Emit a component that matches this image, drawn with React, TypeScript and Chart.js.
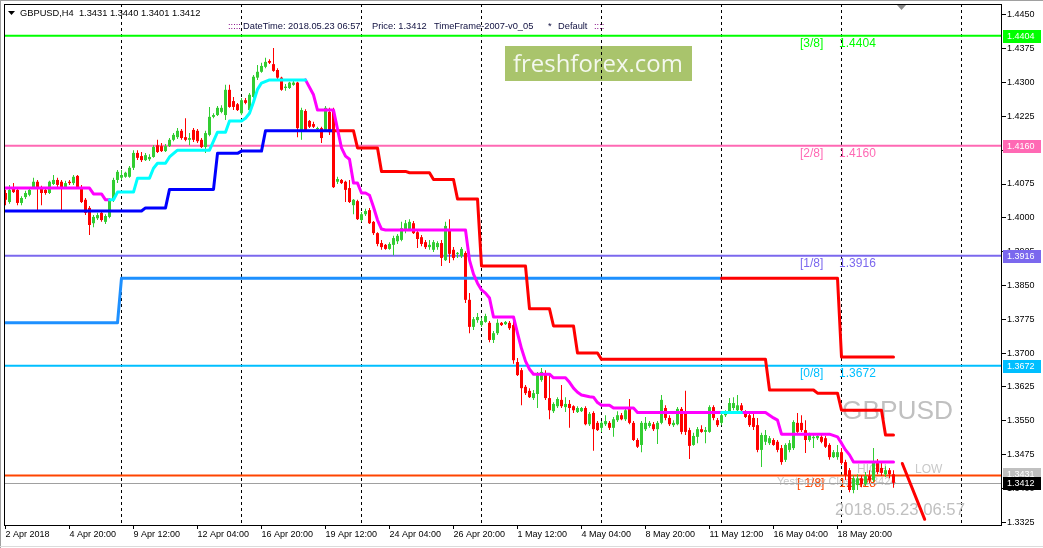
import React, { useEffect, useRef } from "react";
import { Chart, registerables } from "chart.js";
Chart.register(...registerables);

const FONT = "'Liberation Sans', Arial, sans-serif";

// ---- OHLC (H4 bars, index 0 = 2 Apr 2018 00:00) ----
const openP = [1.4055,1.4035,1.4064,1.4062,1.4033,1.4046,1.4051,1.4068,1.4080,1.4066,1.4062,1.4055,1.4075,1.4084,1.4080,1.4068,1.4080,1.4077,1.4093,1.4068,1.4040,1.4022,1.3988,1.3999,1.4011,1.3991,1.4002,1.4040,1.4084,1.4089,1.4091,1.4091,1.4111,1.4144,1.4137,1.4128,1.4130,1.4135,1.4161,1.4159,1.4148,1.4159,1.4173,1.4179,1.4193,1.4179,1.4173,1.4195,1.4193,1.4173,1.4157,1.4184,1.4224,1.4228,1.4235,1.4228,1.4284,1.4259,1.4252,1.4232,1.4261,1.4239,1.4268,1.4311,1.4324,1.4335,1.4348,1.4341,1.4328,1.4311,1.4288,1.4288,1.4295,1.4300,1.4195,1.4237,1.4215,1.4208,1.4197,1.4199,1.4195,1.4235,1.4239,1.4080,1.4084,1.4080,1.4066,1.4028,1.4037,1.3995,1.4008,1.4017,1.3991,1.3966,1.3944,1.3940,1.3931,1.3940,1.3948,1.3951,1.3973,1.3973,1.3988,1.3968,1.3957,1.3946,1.3935,1.3929,1.3935,1.3944,1.3906,1.3973,1.3929,1.3920,1.3915,1.3922,1.3818,1.3758,1.3773,1.3762,1.3769,1.3767,1.3729,1.3744,1.3767,1.3764,1.3767,1.3762,1.3680,1.3662,1.3625,1.3616,1.3600,1.3609,1.3640,1.3655,1.3600,1.3571,1.3582,1.3596,1.3580,1.3587,1.3582,1.3569,1.3571,1.3578,1.3542,1.3567,1.3545,1.3534,1.3542,1.3545,1.3534,1.3551,1.3562,1.3553,1.3578,1.3545,1.3507,1.3496,1.3531,1.3538,1.3542,1.3531,1.3545,1.3578,1.3556,1.3540,1.3542,1.3576,1.3567,1.3529,1.3496,1.3514,1.3531,1.3525,1.3525,1.3580,1.3551,1.3545,1.3562,1.3569,1.3578,1.3573,1.3584,1.3569,1.3562,1.3556,1.3540,1.3485,1.3503,1.3500,1.3507,1.3503,1.3489,1.3463,1.3485,1.3489,1.3545,1.3545,1.3529,1.3507,1.3511,1.3511,1.3514,1.3511,1.3496,1.3469,1.3469,1.3480,1.3458,1.3440,1.3396,1.3407,1.3422,1.3409,1.3427,1.3418,1.3458,1.3445,1.3431,1.3440,1.3431];
const highP = [1.4062,1.4073,1.4077,1.4066,1.4048,1.4060,1.4066,1.4089,1.4084,1.4071,1.4066,1.4082,1.4095,1.4089,1.4084,1.4082,1.4084,1.4095,1.4095,1.4073,1.4044,1.4026,1.4006,1.4011,1.4013,1.4008,1.4044,1.4089,1.4106,1.4106,1.4102,1.4115,1.4150,1.4150,1.4146,1.4144,1.4141,1.4161,1.4173,1.4166,1.4164,1.4177,1.4188,1.4199,1.4197,1.4221,1.4188,1.4199,1.4197,1.4177,1.4193,1.4246,1.4232,1.4248,1.4250,1.4295,1.4295,1.4268,1.4255,1.4266,1.4266,1.4277,1.4317,1.4339,1.4344,1.4355,1.4352,1.4377,1.4332,1.4313,1.4297,1.4302,1.4304,1.4302,1.4244,1.4241,1.4217,1.4213,1.4202,1.4202,1.4248,1.4244,1.4244,1.4091,1.4086,1.4082,1.4084,1.4042,1.4040,1.4013,1.4020,1.4022,1.3993,1.3968,1.3951,1.3942,1.3946,1.3960,1.3964,1.3991,1.3995,1.3997,1.3993,1.3973,1.3962,1.3951,1.3951,1.3951,1.3948,1.3951,1.3991,1.3997,1.3935,1.3924,1.3935,1.3926,1.3833,1.3780,1.3789,1.3778,1.3787,1.3771,1.3749,1.3775,1.3769,1.3771,1.3771,1.3771,1.3689,1.3667,1.3629,1.3622,1.3618,1.3658,1.3667,1.3662,1.3655,1.3591,1.3602,1.3629,1.3602,1.3596,1.3584,1.3582,1.3580,1.3582,1.3569,1.3571,1.3549,1.3549,1.3562,1.3549,1.3558,1.3571,1.3567,1.3578,1.3598,1.3549,1.3511,1.3549,1.3558,1.3549,1.3547,1.3549,1.3607,1.3584,1.3562,1.3551,1.3580,1.3580,1.3616,1.3534,1.3523,1.3536,1.3540,1.3536,1.3584,1.3584,1.3556,1.3567,1.3573,1.3600,1.3602,1.3607,1.3589,1.3573,1.3569,1.3567,1.3556,1.3523,1.3529,1.3516,1.3511,1.3507,1.3496,1.3500,1.3507,1.3551,1.3567,1.3562,1.3551,1.3523,1.3518,1.3518,1.3518,1.3516,1.3500,1.3485,1.3496,1.3489,1.3463,1.3445,1.3429,1.3431,1.3429,1.3436,1.3440,1.3489,1.3465,1.3458,1.3449,1.3445,1.3440];
const lowP = [1.4028,1.4031,1.4055,1.4028,1.4028,1.4042,1.4048,1.4066,1.4017,1.4028,1.4051,1.4053,1.4073,1.4068,1.4017,1.4064,1.4073,1.4073,1.4066,1.4033,1.4006,1.3962,1.3979,1.3995,1.3991,1.3986,1.3999,1.4035,1.4077,1.4084,1.4089,1.4089,1.4106,1.4128,1.4124,1.4126,1.4126,1.4133,1.4144,1.4146,1.4146,1.4157,1.4170,1.4175,1.4173,1.4170,1.4161,1.4168,1.4166,1.4155,1.4144,1.4181,1.4221,1.4226,1.4232,1.4217,1.4244,1.4239,1.4237,1.4228,1.4252,1.4235,1.4266,1.4306,1.4322,1.4332,1.4341,1.4324,1.4308,1.4282,1.4282,1.4286,1.4293,1.4179,1.4173,1.4193,1.4199,1.4199,1.4193,1.4166,1.4193,1.4184,1.4066,1.4075,1.4075,1.4035,1.4033,1.4008,1.3995,1.3991,1.4004,1.3986,1.3962,1.3937,1.3929,1.3929,1.3929,1.3917,1.3942,1.3948,1.3966,1.3971,1.3964,1.3933,1.3937,1.3931,1.3929,1.3924,1.3929,1.3893,1.3904,1.3900,1.3906,1.3911,1.3911,1.3811,1.3744,1.3751,1.3767,1.3758,1.3767,1.3724,1.3722,1.3740,1.3760,1.3762,1.3751,1.3676,1.3649,1.3584,1.3607,1.3600,1.3596,1.3578,1.3636,1.3596,1.3553,1.3567,1.3578,1.3578,1.3569,1.3534,1.3567,1.3567,1.3569,1.3540,1.3538,1.3483,1.3527,1.3525,1.3538,1.3529,1.3514,1.3547,1.3551,1.3549,1.3542,1.3505,1.3489,1.3480,1.3527,1.3534,1.3527,1.3498,1.3542,1.3551,1.3538,1.3536,1.3540,1.3520,1.3518,1.3465,1.3494,1.3500,1.3523,1.3500,1.3523,1.3551,1.3536,1.3540,1.3558,1.3567,1.3573,1.3569,1.3569,1.3556,1.3536,1.3529,1.3480,1.3447,1.3496,1.3496,1.3494,1.3480,1.3452,1.3458,1.3480,1.3485,1.3520,1.3525,1.3478,1.3503,1.3489,1.3507,1.3500,1.3489,1.3463,1.3467,1.3463,1.3452,1.3418,1.3391,1.3389,1.3396,1.3402,1.3405,1.3411,1.3414,1.3431,1.3427,1.3425,1.3422,1.3401];
const closeP = [1.4040,1.4062,1.4057,1.4033,1.4044,1.4055,1.4062,1.4080,1.4066,1.4055,1.4055,1.4080,1.4084,1.4073,1.4068,1.4077,1.4077,1.4091,1.4068,1.4035,1.4011,1.3984,1.4002,1.4006,1.3995,1.4004,1.4040,1.4084,1.4102,1.4095,1.4100,1.4111,1.4144,1.4133,1.4128,1.4139,1.4135,1.4157,1.4146,1.4148,1.4159,1.4173,1.4184,1.4193,1.4177,1.4173,1.4177,1.4173,1.4170,1.4157,1.4188,1.4224,1.4228,1.4244,1.4244,1.4284,1.4246,1.4246,1.4239,1.4261,1.4255,1.4273,1.4313,1.4324,1.4337,1.4346,1.4344,1.4326,1.4311,1.4284,1.4291,1.4300,1.4300,1.4199,1.4239,1.4195,1.4202,1.4202,1.4199,1.4177,1.4244,1.4190,1.4068,1.4086,1.4077,1.4062,1.4035,1.4040,1.3997,1.4008,1.4015,1.3988,1.3966,1.3942,1.3935,1.3931,1.3942,1.3955,1.3960,1.3977,1.3988,1.3991,1.3966,1.3953,1.3942,1.3935,1.3940,1.3946,1.3944,1.3911,1.3982,1.3920,1.3911,1.3922,1.3931,1.3818,1.3758,1.3775,1.3780,1.3771,1.3782,1.3729,1.3744,1.3767,1.3762,1.3769,1.3755,1.3684,1.3651,1.3622,1.3611,1.3602,1.3611,1.3651,1.3658,1.3600,1.3573,1.3587,1.3598,1.3582,1.3587,1.3578,1.3573,1.3578,1.3578,1.3542,1.3565,1.3531,1.3529,1.3545,1.3549,1.3534,1.3553,1.3562,1.3553,1.3573,1.3545,1.3507,1.3492,1.3545,1.3545,1.3545,1.3531,1.3545,1.3596,1.3556,1.3542,1.3545,1.3576,1.3525,1.3525,1.3494,1.3516,1.3531,1.3525,1.3529,1.3580,1.3556,1.3540,1.3562,1.3569,1.3589,1.3589,1.3584,1.3573,1.3558,1.3540,1.3536,1.3485,1.3518,1.3518,1.3511,1.3496,1.3485,1.3458,1.3496,1.3500,1.3547,1.3525,1.3529,1.3507,1.3518,1.3514,1.3516,1.3503,1.3492,1.3469,1.3480,1.3480,1.3456,1.3429,1.3396,1.3422,1.3422,1.3409,1.3427,1.3418,1.3458,1.3436,1.3434,1.3440,1.3431,1.3412];

// ---- indicator lines: [bar index, price] vertices (null = gap) ----
const magentaLine: [number, number | null][] = [[0,1.4066],[21,1.4066],[22,1.4053],[24,1.4053],[25,1.4040],[26,1.4040],[50,null],[75,1.4306],[77,1.4273],[78,1.4239],[82,1.4239],[84,1.4155],[85,1.4137],[86,1.4130],[87,1.4077],[88,1.4077],[89,1.4055],[90,1.4055],[91,1.4050],[92,1.4024],[93,1.3995],[94,1.3975],[95,1.3973],[115,1.3973],[116,1.3906],[117,1.3875],[118,1.3855],[119,1.3840],[120,1.3833],[121,1.3822],[122,1.3780],[127,1.3780],[128,1.3744],[129,1.3710],[130,1.3682],[131,1.3664],[132,1.3653],[136,1.3653],[137,1.3645],[140,1.3645],[141,1.3635],[142,1.3622],[143,1.3613],[144,1.3607],[146,1.3603],[147,1.3602],[148,1.3590],[149,1.3584],[151,1.3584],[152,1.3578],[157,1.3578],[158,1.3568],[179,1.3568],[181,null],[184,1.3568],[190,1.3568],[191,1.3562],[192,1.3556],[193,1.3551],[194,1.3520],[206,1.3520],[208,1.3514],[209,1.3500],[210,1.3485],[211,1.3474],[212,1.3458],[222,1.3458]];
const cyanLine: [number, number | null][] = [[26,1.4040],[27,1.4040],[28,1.4057],[32,1.4057],[33,1.4088],[36,1.4088],[37,1.4110],[38,1.4121],[40,1.4121],[41,1.4135],[43,1.4150],[51,1.4150],[53,1.4190],[55,1.4190],[56,1.4215],[59,1.4215],[60,1.4221],[61,1.4232],[62,1.4257],[63,1.4285],[64,1.4299],[66,1.4306],[75,1.4306],[100,null],[179,1.3568],[184,1.3568]];
const stopUpLine: [number, number][] = [[0,1.4015],[34,1.4015],[35,1.4022],[40,1.4022],[41,1.4063],[52,1.4063],[53,1.4143],[58,1.4143],[59,1.4148],[64,1.4148],[65,1.4193],[82,1.4193]];
const stopDownLine: [number, number][] = [[82,1.4193],[87,1.4193],[88,1.4155],[93,1.4155],[94,1.4103],[100,1.4103],[101,1.4100],[106,1.4100],[107,1.4085],[112,1.4085],[113,1.4042],[118,1.4042],[119,1.3893],[130,1.3893],[131,1.3798],[136,1.3798],[137,1.3760],[142,1.3760],[143,1.3700],[148,1.3700],[149,1.3686],[190,1.3686],[191,1.3618],[202,1.3618],[203,1.3611],[208,1.3611],[209,1.3573],[219,1.3573],[220,1.3518],[222,1.3518]];
const weeklyUpLine: [number, number][] = [[0,1.3767],[28,1.3767],[29,1.3866],[179,1.3866]];
const weeklyDownLine: [number, number][] = [[179,1.3866],[208,1.3866],[209,1.3691],[222,1.3691]];
const trendLine: [number, number][] = [[224.2,1.3455],[229.8,1.3331]];

// ---- levels / axes ----
const murreyLevels = [1.4404, 1.4160, 1.3916, 1.3672, 1.3428];
const murreyNames = ["[3/8]", "[2/8]", "[1/8]", "[0/8]", "[-1/8]"];
const murreyColors = ["#00ff00", "#ff69b4", "#7b68ee", "#00bfff", "#ff4500"];
const murreyNameBars = [198.6, 198.6, 198.6, 198.6, 197.9];
const murreyValueBars = [208.4, 208.4, 208.4, 208.4, 208.4];
const bidPrice = 1.3412;
const openLabelPrice = 1.3431;
const yTicks = [1.4450,1.4375,1.4300,1.4225,1.4150,1.4075,1.4000,1.3925,1.3850,1.3775,1.3700,1.3625,1.3550,1.3475,1.3400,1.3325];
const xTickBars = [0,16,32,48,64,80,96,112,128,144,160,176,192,208];
const xTickLabels = ["2 Apr 2018","4 Apr 20:00","9 Apr 12:00","12 Apr 04:00","16 Apr 20:00","19 Apr 12:00","24 Apr 04:00","26 Apr 20:00","1 May 12:00","4 May 04:00","8 May 20:00","11 May 12:00","16 May 04:00","18 May 20:00"];
const separatorBars = [29,59,89,119,149,179,209,239];
const X_MIN = -0.375, X_MAX = 249.125, Y_MIN = 1.33184, Y_MAX = 1.44744;

function fitText(ctx: CanvasRenderingContext2D, text: string, family: string, base: number, width: number) {
  ctx.font = `${base}px ${family}`;
  const w = ctx.measureText(text).width;
  const size = base * width / w;
  ctx.font = `${size}px ${family}`;
}

const mt4Plugin = {
  id: "mt4",
  beforeDraw(chart: any) {
    const ctx = chart.ctx;
    ctx.save();
    ctx.fillStyle = "#ffffff";
    ctx.fillRect(0, 0, chart.width, chart.height);
    ctx.restore();
  },
  beforeDatasetsDraw(chart: any) {
    const { ctx, chartArea: a, scales } = chart;
    const x = scales.x, y = scales.y;
    ctx.save();
    ctx.beginPath();
    ctx.rect(a.left, a.top, a.right - a.left, a.bottom - a.top);
    ctx.clip();
    // watermark
    ctx.fillStyle = "#a9c46c";
    ctx.fillRect(505, 46, 187, 35);
    ctx.fillStyle = "#f4f8ee";
    ctx.textBaseline = "alphabetic";
    ctx.textAlign = "left";
    fitText(ctx, "freshforex.com", "'Open Sans', sans-serif", 27, 170);
    ctx.fillText("freshforex.com", 513, 72);
    // period separators
    ctx.strokeStyle = "#000";
    ctx.lineWidth = 1;
    ctx.setLineDash([3, 3]);
    for (const b of separatorBars) {
      const px = x.getPixelForValue(b);
      ctx.beginPath();
      ctx.moveTo(px, a.top);
      ctx.lineTo(px, a.bottom);
      ctx.stroke();
    }
    ctx.setLineDash([]);
    // background text objects
    ctx.fillStyle = "#c0c0c0";
    ctx.textBaseline = "alphabetic";
    fitText(ctx, "GBPUSD", FONT, 26, 111);
    ctx.fillText("GBPUSD", 842, 419);
    fitText(ctx, "2018.05.23 06:57", FONT, 18, 130);
    ctx.fillText("2018.05.23 06:57", 835, 515);
    ctx.fillStyle = "#c8c8c8";
    ctx.textBaseline = "middle";
    ctx.font = `12px ${FONT}`;
    ctx.fillText("HIGH", 857, 470);
    ctx.fillText("LOW", 915, 470);
    ctx.font = `11px ${FONT}`;
    ctx.fillText("Yesterday Close  1.3424", 777, 482);
    // Murrey levels
    murreyLevels.forEach((lv, i) => {
      const py = y.getPixelForValue(lv);
      ctx.strokeStyle = murreyColors[i];
      ctx.lineWidth = 2;
      ctx.beginPath();
      ctx.moveTo(a.left, py);
      ctx.lineTo(a.right, py);
      ctx.stroke();
      ctx.fillStyle = murreyColors[i];
      ctx.font = `12px ${FONT}`;
      ctx.textBaseline = "middle";
      ctx.fillText(murreyNames[i], x.getPixelForValue(murreyNameBars[i]), py + 8);
      ctx.fillText(lv.toFixed(4), x.getPixelForValue(murreyValueBars[i]), py + 8);
    });
    // bid line
    const bp = Math.round(y.getPixelForValue(bidPrice)) + 0.5;
    ctx.strokeStyle = "#a0a0a0";
    ctx.lineWidth = 1;
    ctx.beginPath();
    ctx.moveTo(a.left, bp);
    ctx.lineTo(a.right, bp);
    ctx.stroke();
    ctx.restore();
  },
  afterDraw(chart: any) {
    const { ctx, chartArea: a, scales } = chart;
    const y = scales.y;
    ctx.save();
    // frame
    ctx.strokeStyle = "#000";
    ctx.lineWidth = 1;
    ctx.strokeRect(a.left + 0.5, a.top + 0.5, a.right - a.left - 1, a.bottom - a.top);
    // window edges
    ctx.fillStyle = "#a0a0a0";
    ctx.fillRect(0, 0, chart.width, 1);
    ctx.fillRect(0, 0, 1, chart.height);
    ctx.fillStyle = "#dcdcdc";
    ctx.fillRect(0, 546, chart.width, 1);
    // price labels on right axis
    const labels: [number, string][] = [
      [murreyLevels[0], murreyColors[0]],
      [murreyLevels[1], murreyColors[1]],
      [murreyLevels[2], murreyColors[2]],
      [murreyLevels[3], murreyColors[3]],
      [openLabelPrice, "#c0c0c0"],
      [bidPrice, "#000000"],
    ];
    ctx.font = `9px ${FONT}`;
    ctx.textBaseline = "middle";
    ctx.textAlign = "left";
    for (const [p, c] of labels) {
      const py = y.getPixelForValue(p);
      ctx.fillStyle = c;
      ctx.fillRect(a.right + 1, Math.round(py) - 6, 38, 13);
      ctx.fillStyle = "#ffffff";
      ctx.fillText(p.toFixed(4), a.right + 5, Math.round(py) + 0.5);
    }
    // header
    ctx.fillStyle = "#000";
    ctx.beginPath();
    ctx.moveTo(8, 11);
    ctx.lineTo(15, 11);
    ctx.lineTo(11.5, 15);
    ctx.closePath();
    ctx.fill();
    ctx.font = `9.3px ${FONT}`;
    ctx.fillText("GBPUSD,H4  1.3431 1.3440 1.3401 1.3412", 20, 13);
    ctx.fillStyle = "#800080";
    ctx.fillText(":::::", 228, 26);
    ctx.fillText("::::", 594, 26);
    ctx.fillStyle = "#101040";
    ctx.fillText("DateTime: 2018.05.23 06:57", 243, 26);
    ctx.fillText("Price: 1.3412", 372, 26);
    ctx.fillText("TimeFrame-2007-v0_05", 434, 26);
    ctx.fillText("*", 548, 26);
    ctx.fillText("Default", 558, 26);
    // small gray triangle
    ctx.fillStyle = "#8a8a8a";
    ctx.beginPath();
    ctx.moveTo(897, 5);
    ctx.lineTo(906, 5);
    ctx.lineTo(901.5, 10);
    ctx.closePath();
    ctx.fill();
    ctx.restore();
  },
};

const toPts = (arr: [number, number | null][]) => arr.map(([bx, v]) => ({ x: bx, y: v }));

export default function App() {
  const ref = useRef<HTMLCanvasElement | null>(null);
  useEffect(() => {
    document.body.style.margin = "0";
    const canvas = ref.current;
    if (!canvas) return;
    const colors = closeP.map((c, i) => (c >= openP[i] ? "#32cd32" : "#ff0000"));
    const line = (label: string, data: any[], color: string, order: number) => ({
      type: "line" as const,
      label,
      data,
      borderColor: color,
      backgroundColor: color,
      borderWidth: 3,
      pointRadius: 0,
      fill: false,
      tension: 0,
      spanGaps: false,
      order,
      borderJoinStyle: "round" as const,
      borderCapStyle: "round" as const,
    });
    const chart = new Chart(canvas, {
      type: "bar",
      data: {
        datasets: [
          {
            type: "bar",
            label: "wick",
            data: highP.map((h, i) => ({ x: i, y: [lowP[i], h] })) as any,
            backgroundColor: colors,
            barThickness: 1,
            grouped: false,
            inflateAmount: 0,
            borderWidth: 0,
            order: 20,
          } as any,
          {
            type: "bar",
            label: "body",
            data: openP.map((o, i) => ({ x: i, y: [o, closeP[i]] })) as any,
            backgroundColor: colors,
            barThickness: 3,
            minBarLength: 1,
            grouped: false,
            inflateAmount: 0,
            borderWidth: 0,
            order: 19,
          } as any,
          line("weeklyUp", toPts(weeklyUpLine), "#1e90ff", 8),
          line("weeklyDown", toPts(weeklyDownLine), "#ff0000", 7),
          line("stopUp", toPts(stopUpLine), "#0000ff", 6),
          line("stopDown", toPts(stopDownLine), "#ff0000", 5),
          line("magenta", toPts(magentaLine), "#ff00ff", 4),
          line("cyan", toPts(cyanLine), "#00ffff", 3),
          line("trend", toPts(trendLine), "#ff0000", 2),
        ] as any,
      },
      options: {
        responsive: false,
        animation: false,
        devicePixelRatio: 1,
        events: [],
        layout: { padding: { left: 4, top: 4, right: 0, bottom: 0 } },
        plugins: { legend: { display: false }, tooltip: { enabled: false } },
        scales: {
          x: {
            type: "linear",
            position: "bottom",
            min: X_MIN,
            max: X_MAX,
            offset: false,
            afterBuildTicks: (s: any) => {
              s.ticks = xTickBars.map((v) => ({ value: v }));
            },
            afterFit: (s: any) => {
              s.height = 23;
              s.paddingLeft = 0;
              s.paddingRight = 0;
            },
            grid: { display: true, drawOnChartArea: false, drawTicks: true, tickLength: 4, color: "#000", tickColor: "#000", offset: false },
            border: { display: false },
            ticks: {
              autoSkip: false,
              maxRotation: 0,
              minRotation: 0,
              align: "start",
              padding: 0,
              color: "#000",
              font: { family: FONT, size: 9 },
              callback: (_v: any, i: number) => xTickLabels[i] ?? "",
            },
          },
          y: {
            type: "linear",
            position: "right",
            min: Y_MIN,
            max: Y_MAX,
            afterBuildTicks: (s: any) => {
              s.ticks = yTicks.map((v) => ({ value: v }));
            },
            afterFit: (s: any) => {
              s.width = 41;
              s.paddingTop = 0;
              s.paddingBottom = 0;
            },
            grid: { display: true, drawOnChartArea: false, drawTicks: true, tickLength: 4, color: "#000", tickColor: "#000" },
            border: { display: false },
            ticks: {
              padding: 1,
              color: "#000",
              font: { family: FONT, size: 9 },
              callback: (v: any) => Number(v).toFixed(4),
            },
          },
        },
      } as any,
      plugins: [mt4Plugin],
    });
    return () => chart.destroy();
  }, []);
  return <canvas ref={ref} width={1043} height={548} style={{ display: "block" }} />;
}
